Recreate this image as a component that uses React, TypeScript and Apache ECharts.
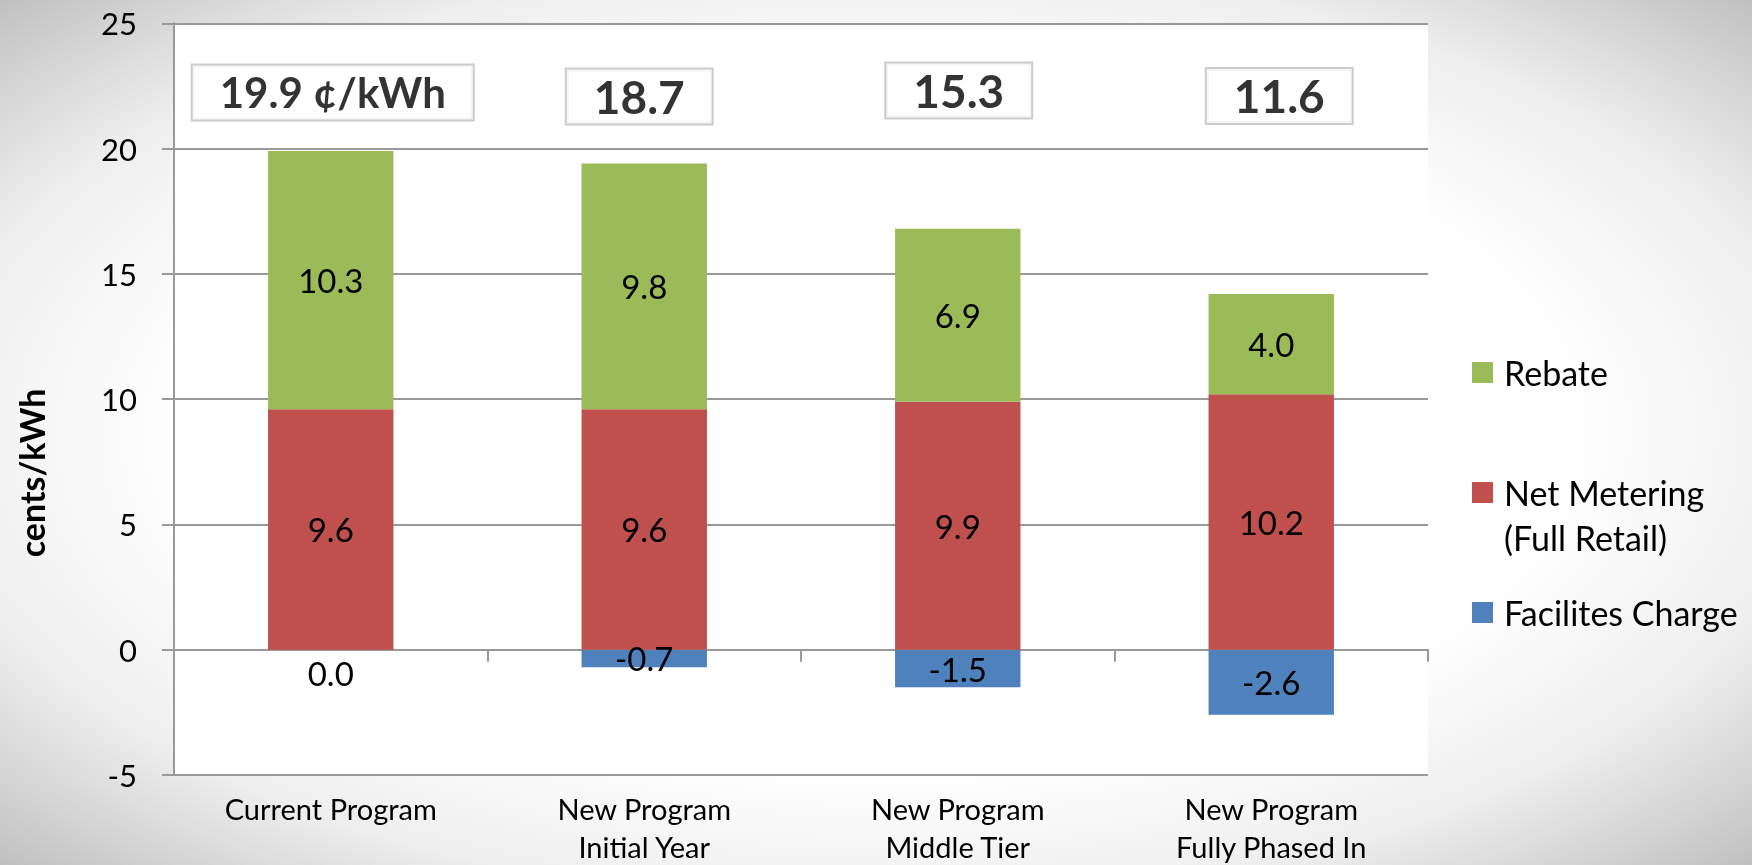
import React, { useEffect, useRef } from "react";
import * as echarts from "echarts";

// ---- data ----
const categories = [
  "Current Program",
  "New Program\nInitial Year",
  "New Program\nMiddle Tier",
  "New Program\nFully Phased In",
];
const rebate = [10.3, 9.8, 6.9, 4.0];
const netMetering = [9.6, 9.6, 9.9, 10.2];
const facilitiesCharge = [0.0, -0.7, -1.5, -2.6];
const totals = [19.9, 18.7, 15.3, 11.6];
const totalUnit = [" ¢/kWh", "", "", ""];
const yMin = -5;
const yMax = 25;
const yInterval = 5;

const seriesNames = ["Rebate", "Net Metering\n(Full Retail)", "Facilites Charge"];
const axisName = "cents/kWh";

// ---- styles ----
const FONT = "Lato";
const GREEN = "#9BBB59";
const RED = "#C0504D";
const BLUE = "#4F81BD";
const GRID_GRAY = "#999999";
const TOTAL_Y = 22.2;
const totalFont = [42, 46, 46, 46];
const totalOffset = [
  [2, -1],
  [-5, 3],
  [1, -3],
  [8, 2.5],
];

export default function App() {
  const ref = useRef<HTMLDivElement>(null);

  useEffect(() => {
    if (!ref.current) return;
    const chart = echarts.init(ref.current, undefined, { renderer: "svg" });

    const barLabel = {
      show: true,
      position: "inside",
      color: "#000",
      fontFamily: FONT,
      fontSize: 33,
      formatter: (p: any) => Number(p.value).toFixed(1),
    };

    const option: any = {
      animation: false,
      textStyle: { fontFamily: FONT },
      graphic: [
        {
          type: "rect",
          z: -10,
          silent: true,
          shape: { x: 0, y: 0, width: 1752, height: 865 },
          style: {
            fill: new echarts.graphic.RadialGradient(0.5, 0.5, 0.72, [
              { offset: 0, color: "#ffffff" },
              { offset: 0.55, color: "#ffffff" },
              { offset: 0.75, color: "#efefef" },
              { offset: 1, color: "#bdbdbd" },
            ]),
          },
        },
        {
          type: "text",
          x: 31,
          y: 473,
          rotation: Math.PI / 2,
          style: {
            text: axisName,
            fontFamily: FONT,
            fontWeight: "bold",
            fontSize: 34,
            fill: "#000",
            align: "center",
            verticalAlign: "middle",
          },
        },
      ],
      grid: {
        left: 174,
        right: 324,
        top: 23.3,
        bottom: 86,
        show: true,
        backgroundColor: "#ffffff",
        borderWidth: 0,
      },
      legend: {
        orient: "vertical",
        left: 1467,
        top: 345,
        itemWidth: 21,
        itemHeight: 21,
        itemGap: 30,
        icon: "rect",
        formatter: (name: string) =>
          name
            .split("\n")
            .map((s) => `{t|${s}}`)
            .join("\n"),
        textStyle: {
          fontFamily: FONT,
          fontSize: 34,
          color: "#000",
          lineHeight: 45,
          padding: [0, 0, 0, 6],
          rich: {
            t: { fontFamily: FONT, fontSize: 34, color: "#000", lineHeight: 45 },
          },
        },
        data: [
          { name: seriesNames[0] },
          { name: seriesNames[1], textStyle: { padding: [45, 0, 0, 6] } },
          { name: seriesNames[2] },
        ],
      },
      xAxis: [
        {
          type: "category",
          data: categories,
          axisLine: { onZero: true, lineStyle: { color: GRID_GRAY, width: 2 } },
          axisTick: { show: true, length: 12, lineStyle: { color: GRID_GRAY, width: 2 } },
          axisLabel: { show: false },
          splitLine: { show: false },
        },
        {
          type: "category",
          data: categories,
          position: "bottom",
          axisLine: { show: false, onZero: false },
          axisTick: { show: false },
          axisLabel: {
            show: true,
            margin: 14,
            color: "#000",
            fontFamily: FONT,
            fontSize: 29,
            lineHeight: 38,
          },
          splitLine: { show: false },
        },
      ],
      yAxis: {
        type: "value",
        min: yMin,
        max: yMax,
        interval: yInterval,
        axisLine: { show: true, lineStyle: { color: GRID_GRAY, width: 2 } },
        axisTick: { show: true, length: 12, lineStyle: { color: GRID_GRAY, width: 2 } },
        axisLabel: { margin: 37, color: "#000", fontFamily: FONT, fontSize: 31 },
        splitLine: { show: true, lineStyle: { color: GRID_GRAY, width: 2 } },
      },
      series: [
        {
          name: seriesNames[2],
          type: "bar",
          stack: "total",
          barWidth: "40%",
          itemStyle: { color: BLUE },
          label: barLabel,
          data: facilitiesCharge.map((v) =>
            v === 0
              ? { value: v, label: { position: "bottom", distance: 7 } }
              : { value: v }
          ),
        },
        {
          name: seriesNames[1],
          type: "bar",
          stack: "total",
          barWidth: "40%",
          itemStyle: { color: RED },
          label: barLabel,
          data: netMetering,
        },
        {
          name: seriesNames[0],
          type: "bar",
          stack: "total",
          barWidth: "40%",
          itemStyle: { color: GREEN },
          label: barLabel,
          data: rebate,
        },
        {
          name: "totals",
          type: "scatter",
          symbolSize: 1,
          itemStyle: { color: "rgba(0,0,0,0)" },
          z: 5,
          data: totals.map((t, i) => ({
            value: [i, TOTAL_Y],
            label: {
              show: true,
              position: "inside",
              offset: totalOffset[i],
              formatter: t.toFixed(1) + totalUnit[i],
              fontFamily: FONT,
              fontWeight: "bold",
              fontSize: totalFont[i],
              lineHeight: 46,
              color: "#000",
              backgroundColor: "#ffffff",
              borderColor: "#bfbfbf",
              borderWidth: 2,
              padding: [4, 27],
            },
          })),
        },
      ],
    };

    chart.setOption(option);
    return () => chart.dispose();
  }, []);

  return (
    <div
      ref={ref}
      style={{ position: "fixed", left: 0, top: 0, width: 1752, height: 865 }}
    />
  );
}
